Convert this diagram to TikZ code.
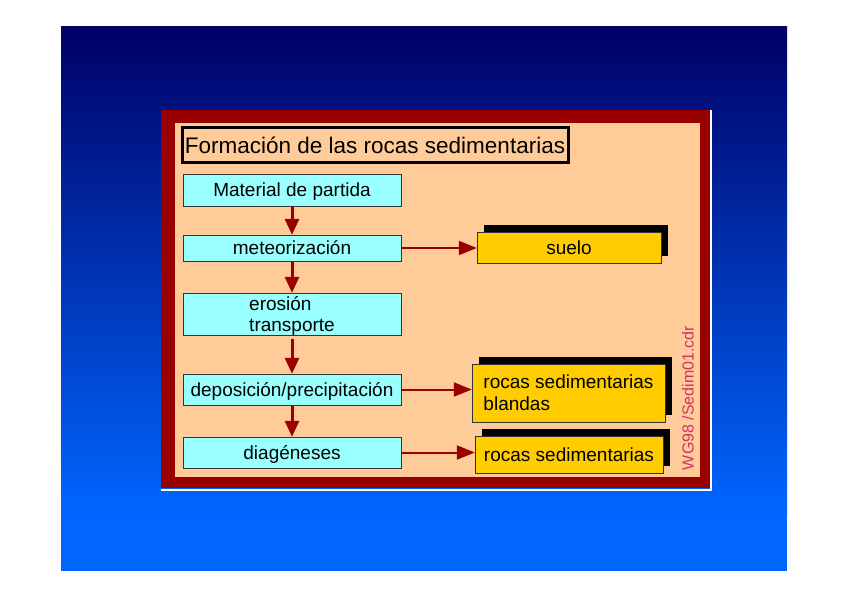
\documentclass[tikz,border=0pt]{standalone}
\usepackage{fontspec}
\setmainfont{Liberation Sans}
\usetikzlibrary{arrows.meta,shadows}
\definecolor{navy}{RGB}{0,0,102}
\definecolor{brightblue}{RGB}{0,102,255}
\definecolor{framered}{RGB}{153,0,0}
\definecolor{peach}{RGB}{255,204,153}
\definecolor{cyanbox}{RGB}{153,255,255}
\definecolor{goldbox}{RGB}{255,204,0}
\definecolor{tagpink}{RGB}{204,51,102}

\begin{document}
\begin{tikzpicture}[x=1pt,y=-1pt,
 proc/.style={draw=black!80,fill=cyanbox,minimum width=218pt,inner sep=0pt,align=left,
   text depth=0pt,font=\fontsize{19}{21}\selectfont},
 res/.style={draw=black!80,fill=goldbox,inner sep=0pt,align=left,
   text depth=0pt,font=\fontsize{19}{22}\selectfont,
   general shadow={fill=black,shadow xshift=7pt,shadow yshift=7pt}},
 oneline/.style={text height=13.6pt},
 down/.style={-{Triangle[width=14pt,length=16pt]},line width=3pt,framered},
 side/.style={-{Triangle[width=14pt,length=18pt]},line width=2pt,framered}]
\useasboundingbox (0,0) rectangle (848,599);
% background and frame
\shade[top color=navy,bottom color=brightblue] (61,27) rectangle (787,515);
\fill[brightblue] (61,514) rectangle (787,571);
\fill[framered] (161,110) rectangle (710,488);
\draw[white,line width=2pt] (711,110) -- (711,490) -- (161,490);
\fill[peach] (175,123) rectangle (700,477);
\node[draw,line width=3pt,minimum width=386pt,minimum height=34pt,inner sep=0pt,
  text height=16.1pt,text depth=0pt,font=\fontsize{22.5}{24}\selectfont] (title) at (375,145) {Formación de las rocas sedimentarias};
% process chain
\node[proc,oneline,minimum height=32pt] (mat) at (292,190) {Material de partida};
\node[proc,oneline,minimum height=26pt] (met) at (292,248) {meteorización};
\node[proc,minimum height=42pt] (ero) at (292,314) {erosión\\transporte};
\node[proc,oneline,minimum height=31pt] (dep) at (292,389.5) {deposición/precipitación};
\node[proc,oneline,minimum height=31pt] (dia) at (292,452.5) {diagéneses};
% products
\node[res,oneline,minimum width=184pt,minimum height=31pt] (suelo) at (569,247.5) {suelo};
\node[res,minimum width=193pt,minimum height=58pt] (blandas) at (568.5,393) {rocas sedimentarias\\blandas};
\node[res,oneline,minimum width=188pt,minimum height=37pt] (rocas) at (569,454.5) {rocas sedimentarias};
\node[rotate=90,text=tagpink,font=\fontsize{16}{18}\selectfont] (tag) at (688,398) {WG98 /Sedim01.cdr};
% arrows
\draw[down] (mat) -- (met);
\draw[down] (met) -- (ero);
\draw[down,shorten <=4pt] (ero) -- (dep);
\draw[down] (dep) -- (dia);
\draw[side] (met.east) -- (met.east -| suelo.west);
\draw[side] (dep.east) -- (dep.east -| blandas.west);
\draw[side] (dia.east) -- (dia.east -| rocas.west);
\end{tikzpicture}
\end{document}
